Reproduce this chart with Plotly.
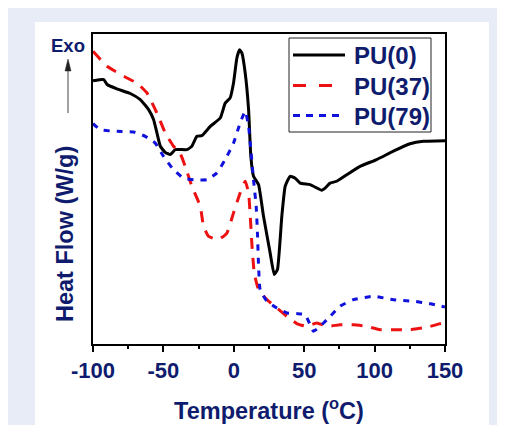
import plotly.graph_objects as go

# Data (y in arbitrary units, 0 = bottom of axes, 100 = top)
t_pu0 = [-100, -92.4, -90, -83, -73.5, -66.4, -60.5, -57, -54.6, -52.2, -48.7, -45.1, -41.6, -33.3,
         -29.8, -26.2, -22.7, -16.7, -9.6, -6.1, -2.6, -0.2, 2.2, 4.1, 5.7, 8.1, 10.5, 12.1, 14.0,
         17.6, 21.1, 25.8, 28.7, 31.0, 34.1, 36.5, 40.0, 43.6, 47.1, 54.2, 62.5, 64.9, 68.4, 73.1,
         80.2, 89.7, 101.5, 113.3, 125.2, 134.6, 150]
hf_pu0 = [84.9, 85.3, 83.7, 82.3, 80.8, 78.8, 75.6, 72.4, 68.1, 63.8, 61.8, 61.1, 62.7, 62.7,
          63.8, 67.0, 67.2, 70.2, 72.9, 77.7, 79.4, 84.2, 92.3, 94.9, 93.9, 87.4, 75.6, 60.5, 54.1,
          51.4, 41.2, 29.4, 22.4, 24.0, 41.2, 50.9, 54.1, 53.5, 51.9, 51.4, 49.6, 50.3, 51.9, 52.5,
          54.6, 57.3, 59.5, 62.2, 64.6, 65.4, 65.6]

t_pu37 = [-100, -90, -75.9, -68.8, -61.7, -54.6, -48.7, -42.8, -38.0, -34.5, -29.8, -23.8, -21.5,
          -17.9, -10.8, -4.9, -0.2, 4.5, 8.1, 10.5, 11.7, 12.8, 14.5, 17.6, 23.5, 30.6, 37.7, 44.8,
          51.8, 58.9, 66.0, 75.5, 84.9, 94.4, 103.9, 113.3, 125.2, 137.0, 150]
hf_pu37 = [94.4, 89.6, 85.8, 84.2, 81.0, 74.5, 68.1, 63.8, 61.4, 57.3, 50.9, 44.4, 38.0,
           34.7, 33.7, 35.8, 42.3, 48.7, 52.5, 48.7, 41.2, 32.6, 22.9, 17.5, 14.3, 11.6, 8.9, 6.6,
           5.7, 6.8, 5.7, 6.2, 6.2, 5.7, 4.6, 4.6, 4.6, 5.4, 7.0]

t_pu79 = [-100, -94.8, -83, -71.1, -62.9, -55.8, -49.9, -42.8, -35.7, -28.6, -19.1, -12.0, -6.1,
          -0.2, 4.5, 8.1, 10.5, 12.1, 14.0, 15.9, 16.8, 17.6, 18.7, 23.5, 30.6, 37.7, 44.8, 50.7,
          56.6, 61.3, 68.4, 75.5, 84.9, 99.1, 113.3, 127.5, 139.4, 150]
hf_pu79 = [71.1, 69.1, 68.6, 68.4, 67.0, 64.8, 60.5, 56.2, 53.5, 53.0, 53.0, 55.2, 59.5,
           64.8, 71.3, 75.1, 70.2, 62.7, 53.0, 44.4, 35.8, 25.1, 17.5, 13.8, 11.6, 10.0, 9.8, 9.5,
           4.1, 5.7, 8.9, 12.2, 14.3, 15.4, 14.3, 13.8, 13.0, 11.9]

x_ticks = [-100, -50, 0, 50, 100, 150]
series_names = ["PU(0)", "PU(37)", "PU(79)"]

NAVY = "#0f1c6d"
FONT = "Liberation Sans, Arial, sans-serif"
COLORS = ["black", "#ee1111", "#1111dd"]
DASHES = ["solid", "11px,9px", "6px,7px"]
LEG_DASHES = ["solid", "13px,13px", "7px,6px"]

fig = go.Figure()
for name, xs, ys, c, d in zip(series_names, [t_pu0, t_pu37, t_pu79], [hf_pu0, hf_pu37, hf_pu79],
                              COLORS, DASHES):
    fig.add_trace(go.Scatter(x=xs, y=ys, mode="lines", name=name, showlegend=False,
                             line=dict(color=c, width=3, dash=d, shape="spline", smoothing=0.4)))

OFF = 8  # page body margin
W, H = 505, 425
# plot area in screen pixels: x 93..445, y 34..344
L, R, T, B = 93 - OFF, W - (445 - OFF), 34 - OFF, H - (344 - OFF)
pw, ph = W - L - R, H - T - B

def px_x(p):  # screen px -> paper
    return (p - OFF - L) / pw

def px_y(p):
    return (H - B - (p - OFF)) / ph

ax_x = px_x(68)
shapes = [
    dict(type="rect", xref="paper", yref="paper", layer="below",
         x0=px_x(35), x1=px_x(489), y0=px_y(H + 40), y1=px_y(22),
         fillcolor="white", line=dict(width=0)),
    dict(type="line", xref="paper", yref="paper",
         x0=ax_x, x1=ax_x, y0=px_y(113), y1=px_y(68),
         line=dict(color="#444444", width=1)),
    dict(type="path", xref="paper", yref="paper",
         path=f"M {px_x(65)} {px_y(71)} L {px_x(71)} {px_y(71)} L {ax_x} {px_y(59)} Z",
         fillcolor="#222222", line=dict(color="#222222", width=0.5)),
    # legend box
    dict(type="rect", xref="paper", yref="paper",
         x0=px_x(289), x1=px_x(431), y0=px_y(132), y1=px_y(38),
         fillcolor="white", line=dict(color="#222222", width=1)),
]

annotations = [
    dict(text="Exo", xref="paper", yref="paper", x=px_x(68), y=px_y(45),
         xanchor="center", yanchor="middle",
         showarrow=False, font=dict(family=FONT, size=18.5, color=NAVY, weight="bold")),
    dict(text="Heat Flow (W/g)", xref="paper", yref="paper", x=px_x(65), y=px_y(234),
         xanchor="center", yanchor="middle", textangle=-90,
         showarrow=False, font=dict(family=FONT, size=23.5, color=NAVY, weight="bold")),
]

leg_rows = [55, 85.5, 115.5]
for name, c, d, yy in zip(series_names, COLORS, LEG_DASHES, leg_rows):
    shapes.append(dict(type="line", xref="paper", yref="paper",
                       x0=px_x(293), x1=px_x(345), y0=px_y(yy), y1=px_y(yy),
                       line=dict(color=c, width=3, dash=d)))
    annotations.append(dict(text=name, xref="paper", yref="paper", x=px_x(352), y=px_y(yy + 1),
                            xanchor="left", yanchor="middle", showarrow=False,
                            font=dict(family=FONT, size=24, color=NAVY, weight="bold")))

fig.update_layout(
    width=W, height=H,
    margin=dict(l=L, r=R, t=T, b=B, pad=0),
    paper_bgcolor="#e8ecf6", plot_bgcolor="white",
    shapes=shapes, annotations=annotations,
    font=dict(family=FONT, color=NAVY),
    showlegend=False,
    xaxis=dict(range=[-100, 150], tickvals=x_ticks, ticktext=[str(v) for v in x_ticks],
               ticks="outside", ticklen=6, tickwidth=1.5, tickcolor="black",
               minor=dict(dtick=25, tick0=-100, ticks="outside", ticklen=3, tickwidth=1.5, tickcolor="black"),
               showline=True, linecolor="black", linewidth=2, mirror=True,
               showgrid=False, zeroline=False,
               tickfont=dict(family=FONT, size=22, color=NAVY, weight="bold"),
               title=dict(text="Temperature (<sup>o</sup>C)", standoff=20,
                          font=dict(family=FONT, size=23.5, color=NAVY, weight="bold"))),
    yaxis=dict(range=[0, 100], showticklabels=False, ticks="",
               showline=True, linecolor="black", linewidth=2, mirror=True,
               showgrid=False, zeroline=False),
)

fig.write_html("out.html")
